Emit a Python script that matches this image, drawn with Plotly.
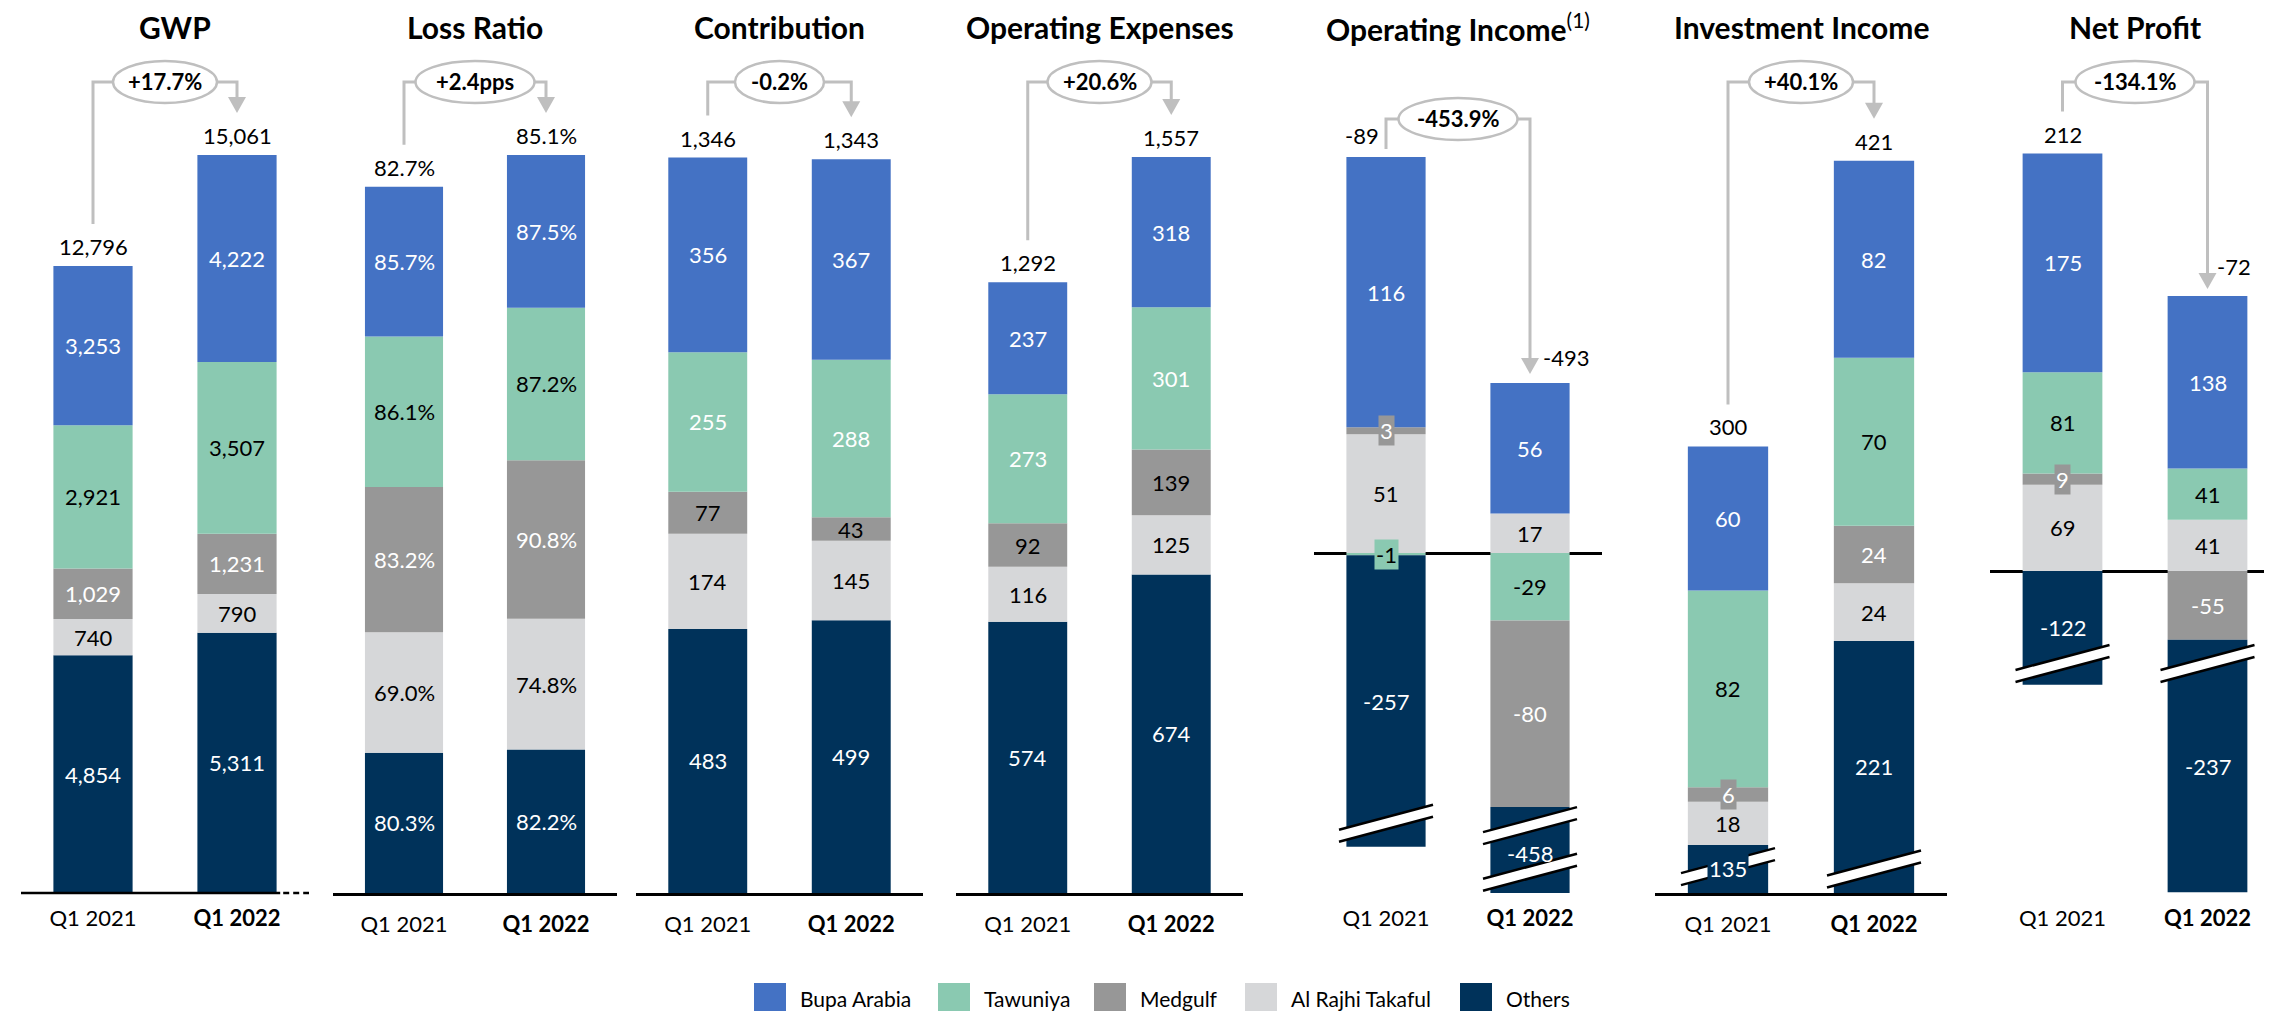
import plotly.graph_objects as go

series = ["Bupa Arabia", "Tawuniya", "Medgulf", "Al Rajhi Takaful", "Others"]
colors = ["#4472C4", "#8AC9B1", "#979797", "#D6D7D9", "#00325A"]
periods = ["Q1 2021", "Q1 2022"]

titles = ["<b>GWP</b>", "<b>Loss Ratio</b>", "<b>Contribution</b>", "<b>Operating Expenses</b>",
          "<b>Operating Income</b><sup>(1)</sup>", "<b>Investment Income</b>", "<b>Net Profit</b>"]

# values in series order: Bupa, Tawuniya, Medgulf, Al Rajhi, Others
gwp_2021 = [3253, 2921, 1029, 740, 4854]
gwp_2022 = [4222, 3507, 1231, 790, 5311]
gwp_total = [12796, 15061]

loss_2021 = [85.7, 86.1, 83.2, 69.0, 80.3]
loss_2022 = [87.5, 87.2, 90.8, 74.8, 82.2]
loss_total = [82.7, 85.1]

contrib_2021 = [356, 255, 77, 174, 483]
contrib_2022 = [367, 288, 43, 145, 499]
contrib_total = [1346, 1343]

opex_2021 = [237, 273, 92, 116, 574]
opex_2022 = [318, 301, 139, 125, 674]
opex_total = [1292, 1557]

opinc_2021 = [116, -1, 3, 51, -257]
opinc_2022 = [56, -29, -80, 17, -458]
opinc_total = [-89, -493]

invinc_2021 = [60, 82, 6, 18, 135]
invinc_2022 = [82, 70, 24, 24, 221]
invinc_total = [300, 421]

np_2021 = [175, 81, 9, 69, -122]
np_2022 = [138, 41, -55, 41, -237]
np_total = [212, -72]

changes = ["+17.7%", "+2.4pps", "-0.2%", "+20.6%", "-453.9%", "+40.1%", "-134.1%"]

# "Others" is shown with an axis break (//) in three panels: length actually drawn
opinc_others_drawn = [-125, -40]
invinc_others_drawn = [20, 105]
np_others_drawn = [-91, -202]

values = [(gwp_2021, gwp_2022), (loss_2021, loss_2022), (contrib_2021, contrib_2022),
          (opex_2021, opex_2022), (opinc_2021, opinc_2022), (invinc_2021, invinc_2022),
          (np_2021, np_2022)]
totals = [gwp_total, loss_total, contrib_total, opex_total, opinc_total, invinc_total, np_total]
others_drawn = {4: opinc_others_drawn, 5: invinc_others_drawn, 6: np_others_drawn}

# ---- layout settings ----
W, H = 2272, 1017
Y_BOT, Y_TOP = 885, 100
x_dom = [(13, 301), (325, 609), (628, 915), (948, 1235), (1306, 1594), (1647, 1939), (1982, 2272)]
y_rng = [(0, 16020), (0, 449.4), (0, 1435.6), (0, 1660.6), (-145.9, 191), (0, 327), (-257.6, 370.4)]

# stacking order from zero outwards (indexes into series)
default_order = [4, 3, 2, 1, 0]
stack_order = {4: [1, 3, 2, 0, 4], 6: [3, 2, 1, 0, 4]}

default_txt = ["white", "black", "white", "black", "white"]
txt_colors = {2: ["white", "white", "black", "black", "white"],
              3: ["white", "white", "black", "black", "white"]}

# label / bracket tweaks where the total label sits beside the arrow
total_shift = {4: [(-24, 2), (36, 6)], 6: [(0, 0), (26, 10)]}
bracket_gap = {4: (8, 9), 6: (42, 7)}
bracket_level = {4: 111}
breaks = [(4, 0, -116), (4, 1, -117), (4, 1, -137), (5, 0, 11), (5, 1, 10), (6, 0, -74), (6, 1, -74)]

FONT = "Lato"


def px_x(p, xv):
    L, R = x_dom[p]
    return L + (xv + 0.5) * (R - L) / 2


def px_y(p, yv):
    lo, hi = y_rng[p]
    return Y_BOT - (yv - lo) / (hi - lo) * (Y_BOT - Y_TOP)


def fx(px):
    return px / W


def fy(py):
    return 1 - py / H


def fmt(p, v):
    return f"{v:.1f}%" if p == 1 else f"{v:,}"


fig = go.Figure()
annotations = []
shapes = []
GRAY = "#BFBFBF"

for p in range(7):
    order = stack_order.get(p, default_order)
    tcol = txt_colors.get(p, default_txt)
    xa, ya = f"x{p + 1}", f"y{p + 1}"
    drawn = [list(values[p][0]), list(values[p][1])]
    if p in others_drawn:
        drawn[0][4] = others_drawn[p][0]
        drawn[1][4] = others_drawn[p][1]

    bases = [[0] * 5, [0] * 5]
    tops = [0, 0]
    for k in range(2):
        pos, neg = 0, 0
        for i in order:
            v = drawn[k][i]
            if v >= 0:
                bases[k][i] = pos
                pos += v
            else:
                bases[k][i] = neg
                neg += v
        tops[k] = pos

    for i in order:
        fig.add_trace(go.Bar(
            x=[0, 1], y=[drawn[0][i], drawn[1][i]], base=[bases[0][i], bases[1][i]],
            marker=dict(color=colors[i], line=dict(width=0)), width=0.55,
            name=series[i], xaxis=xa, yaxis=ya, showlegend=False, hoverinfo="skip"))
        for k in range(2):
            mid = bases[k][i] + drawn[k][i] / 2
            h_px = abs(px_y(p, bases[k][i]) - px_y(p, bases[k][i] + drawn[k][i]))
            near_break = any(b[0] == p and b[1] == k and abs(px_y(p, b[2]) - px_y(p, mid)) < 15
                             for b in breaks)
            ann = dict(x=k, y=mid, xref=xa, yref=ya, text=fmt(p, values[p][k][i]),
                       showarrow=False, xanchor="center", yanchor="middle",
                       font=dict(size=22, color=tcol[i], family=FONT))
            if h_px < 22 or near_break:
                ann.update(bgcolor=colors[i], borderpad=1)
            annotations.append(ann)

    # totals above bars
    for k in range(2):
        xs, ys = total_shift.get(p, [(0, 0), (0, 0)])[k]
        annotations.append(dict(x=k, y=tops[k], xref=xa, yref=ya, text=fmt(p, totals[p][k]),
                                showarrow=False, xanchor="center", yanchor="bottom",
                                xshift=xs, yshift=4 + ys,
                                font=dict(size=22, color="black", family=FONT)))

    # title
    L, R = x_dom[p]
    annotations.append(dict(x=fx((L + R) / 2 + (10 if p == 0 else 0)), y=fy(19), xref="paper",
                            yref="paper", text=titles[p], showarrow=False,
                            xanchor="center", yanchor="middle",
                            font=dict(size=30, color="black", family=FONT)))

    # change callout: bracket from bar 1 to bar 2 with ellipse
    g1, g2 = bracket_gap.get(p, (42, 42))
    lvl = bracket_level.get(p, 74)
    x1, x2 = px_x(p, 0), px_x(p, 1)
    y_start = px_y(p, tops[0]) - g1
    y_tip = px_y(p, tops[1]) - g2
    path = (f"M {fx(x1)},{fy(y_start)} L {fx(x1)},{fy(lvl)} L {fx(x2)},{fy(lvl)} "
            f"L {fx(x2)},{fy(y_tip - 14)}")
    shapes.append(dict(type="path", path=path, xref="paper", yref="paper",
                       line=dict(color=GRAY, width=3)))
    tri = (f"M {fx(x2 - 9)},{fy(y_tip - 16)} L {fx(x2 + 9)},{fy(y_tip - 16)} "
           f"L {fx(x2)},{fy(y_tip)} Z")
    shapes.append(dict(type="path", path=tri, xref="paper", yref="paper",
                       fillcolor=GRAY, line=dict(width=0)))
    ew = 15 * len(changes[p]) + 14
    cx = (x1 + x2) / 2
    shapes.append(dict(type="circle", xref="paper", yref="paper",
                       x0=fx(cx - ew / 2), x1=fx(cx + ew / 2), y0=fy(lvl + 21), y1=fy(lvl - 21),
                       fillcolor="white", line=dict(color=GRAY, width=2.5)))
    annotations.append(dict(x=fx(cx), y=fy(lvl), xref="paper", yref="paper",
                            text=f"<b>{changes[p]}</b>", showarrow=False,
                            xanchor="center", yanchor="middle",
                            font=dict(size=22, color="black", family=FONT)))

    mixed = p in (4, 6)
    fig.update_layout({
        f"xaxis{p + 1}": dict(domain=[fx(L), fx(R)], range=[-0.5, 1.5], anchor=ya,
                              tickvals=[0, 1], ticktext=[periods[0], f"<b>{periods[1]}</b>"],
                              ticks="", showgrid=False, zeroline=False,
                              showline=(not mixed and p != 0), linecolor="black", linewidth=2.5,
                              ticklabelstandoff=10,
                              tickfont=dict(size=22, color="black", family=FONT)),
        f"yaxis{p + 1}": dict(domain=[fy(Y_BOT), fy(Y_TOP)], range=list(y_rng[p]), anchor=xa,
                              showgrid=False, showticklabels=False, ticks="", showline=False,
                              zeroline=mixed, zerolinecolor="black", zerolinewidth=2.5),
    })

# GWP base line with its dashed tail
shapes.append(dict(type="line", xref="paper", yref="paper", x0=fx(x_dom[0][0]), x1=fx(px_x(0, 1.3)),
                   y0=fy(Y_BOT), y1=fy(Y_BOT), line=dict(color="black", width=2.5)))
shapes.append(dict(type="line", xref="paper", yref="paper", x0=fx(px_x(0, 1.3) + 3), x1=fx(x_dom[0][1]),
                   y0=fy(Y_BOT), y1=fy(Y_BOT), line=dict(color="black", width=2.5, dash="6px,4px")))

# axis break marks
for p, k, yv in breaks:
    cx, cy = px_x(p, k), px_y(p, yv)
    w, s, g = 47, 12.5, 6
    band = (f"M {fx(cx - w)},{fy(cy + s - g)} L {fx(cx + w)},{fy(cy - s - g)} "
            f"L {fx(cx + w)},{fy(cy - s + g)} L {fx(cx - w)},{fy(cy + s + g)} Z")
    shapes.append(dict(type="path", path=band, xref="paper", yref="paper",
                       fillcolor="white", line=dict(width=0)))
    for off in (-g, g):
        shapes.append(dict(type="line", xref="paper", yref="paper",
                           x0=fx(cx - w), y0=fy(cy + s + off), x1=fx(cx + w), y1=fy(cy - s + off),
                           line=dict(color="black", width=2.5)))

# legend drawn by hand (large swatches)
legend_x = [746, 930, 1086, 1237, 1452]
for i, name in enumerate(series):
    sx = legend_x[i]
    shapes.append(dict(type="rect", xref="paper", yref="paper", x0=fx(sx), x1=fx(sx + 32),
                       y0=fy(1003), y1=fy(975), fillcolor=colors[i], line=dict(width=0)))
    annotations.append(dict(x=fx(sx + 44), y=fy(990), xref="paper", yref="paper", text=name,
                            showarrow=False, xanchor="left", yanchor="middle",
                            font=dict(size=21, color="black", family=FONT)))

fig.update_layout(
    width=W, height=H, margin=dict(l=0, r=0, t=0, b=0),
    barmode="overlay", showlegend=False,
    plot_bgcolor="white", paper_bgcolor="white",
    font=dict(family=FONT, color="black"),
    annotations=annotations, shapes=shapes,
)

fig.write_html("out.html")
